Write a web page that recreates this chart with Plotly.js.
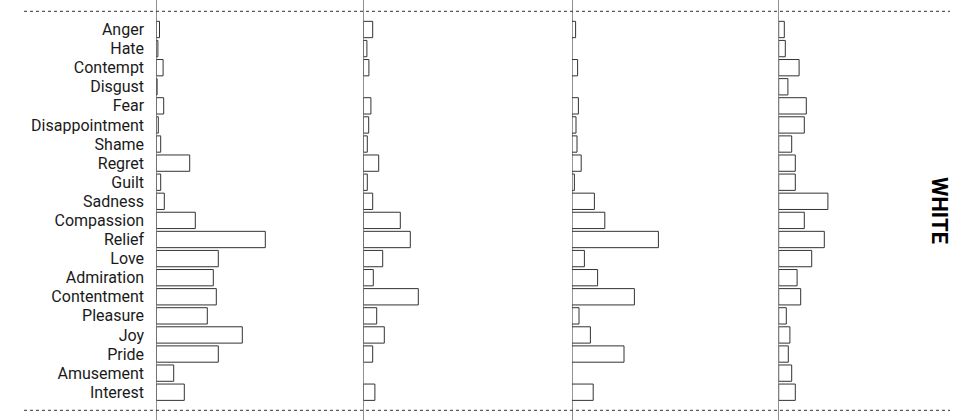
<!DOCTYPE html>
<html>
<head>
<meta charset="utf-8">
<script src="https://cdn.plot.ly/plotly-3.0.1.min.js"></script>
<style>html,body{margin:0;padding:0;background:#fff;}#chart{width:958px;height:420px;}</style>
</head>
<body>
<div id="chart"></div>
<script>
const categories = ["Anger","Hate","Contempt","Disgust","Fear","Disappointment","Shame","Regret","Guilt","Sadness","Compassion","Relief","Love","Admiration","Contentment","Pleasure","Joy","Pride","Amusement","Interest"];
const panel1 = [0.8,0.4,1.7,0.2,1.85,0.5,1.1,8.35,1.1,2.0,9.75,27.25,15.5,14.25,15.0,12.75,21.5,15.5,4.35,7.0];
const panel2 = [2.35,0.9,1.4,null,1.9,1.35,1.0,3.85,1.0,2.35,9.25,11.75,4.85,2.5,13.75,3.35,5.25,2.35,null,2.9];
const panel3 = [0.9,null,1.4,null,1.6,1.0,1.25,2.3,0.6,5.6,8.2,21.6,3.1,6.4,15.6,1.75,4.6,13.0,null,5.3];
const panel4 = [1.4,1.65,5.1,2.3,6.9,6.4,3.25,4.15,4.15,12.3,6.4,11.4,8.25,4.6,5.5,1.9,2.8,2.4,3.25,4.15];
const facetLabel = "WHITE";

const panels = [panel1, panel2, panel3, panel4];
const axisNames = ["x","x2","x3","x4"];
const traces = panels.map((vals, i) => ({
  type: "bar",
  orientation: "h",
  x: vals,
  y: categories,
  xaxis: axisNames[i],
  yaxis: "y",
  marker: {color: "#ffffff", line: {color: "#333333", width: 1}},
  hoverinfo: "x+y",
  showlegend: false
}));

const W = 958;
const starts = [156.3, 363.3, 572, 778.7];
const panelW = 150;
function xax(i){
  return {
    domain: [starts[i]/W, (starts[i]+panelW)/W],
    range: [0, 37.5],
    showgrid: false,
    showticklabels: false,
    ticks: "",
    showline: false,
    zeroline: true,
    zerolinecolor: "#909090",
    zerolinewidth: 1,
    anchor: "y",
    fixedrange: true
  };
}

const layout = {
  width: 958,
  height: 420,
  margin: {l: 0, r: 0, t: 0, b: 0, pad: 0},
  paper_bgcolor: "#ffffff",
  plot_bgcolor: "rgba(0,0,0,0)",
  bargap: 0.145,
  font: {family: "Roboto, sans-serif", size: 16, color: "#1a1a1a"},
  xaxis: xax(0),
  xaxis2: xax(1),
  xaxis3: xax(2),
  xaxis4: xax(3),
  yaxis: {
    type: "category",
    range: [20.455, -1.545],
    showgrid: false,
    zeroline: false,
    showline: false,
    ticks: "outside",
    ticklen: 8,
    tickcolor: "rgba(0,0,0,0)",
    tickfont: {family: "Roboto, sans-serif", size: 16, color: "#1a1a1a"},
    anchor: "x",
    automargin: false,
    fixedrange: true
  },
  shapes: [
    {type: "line", xref: "paper", yref: "paper", x0: 24/W, x1: 950/W, y0: 1 - 11.3/420, y1: 1 - 11.3/420,
     line: {color: "#333333", width: 1, dash: "3px,3px"}},
    {type: "line", xref: "paper", yref: "paper", x0: 24/W, x1: 950/W, y0: 1 - 410.3/420, y1: 1 - 410.3/420,
     line: {color: "#333333", width: 1, dash: "3px,3px"}}
  ],
  annotations: [
    {text: "<b>" + facetLabel + "</b>", xref: "paper", yref: "paper", x: 940/W, y: 0.5,
     xanchor: "center", yanchor: "middle", showarrow: false, textangle: 90,
     font: {family: "Roboto, sans-serif", size: 22, color: "#000000"}}
  ]
};

Plotly.newPlot("chart", traces, layout, {displayModeBar: false, staticPlot: true});
</script>
</body>
</html>
